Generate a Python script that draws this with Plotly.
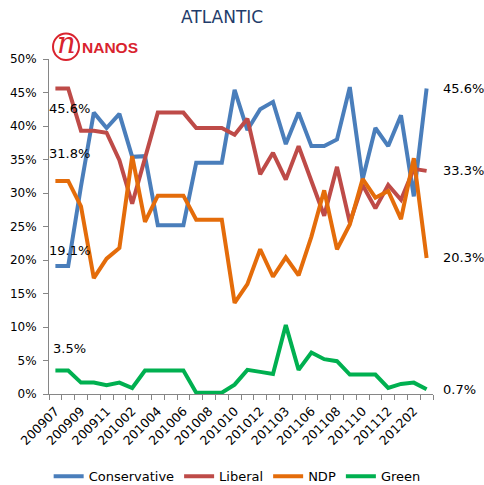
import plotly.graph_objects as go

categories = ["200907","200908","200909","200910","200911","201001","201002","201003",
              "201004","201005","201006","201007","201008","201009","201010","201011",
              "201012","201102","201103","201105","201106","201107","201108","201109",
              "201110","201111","201112","201201","201202","201203"]

conservative = [19.1, 19.1, 31.0, 42.0, 39.7, 41.8, 35.4, 35.5, 25.2, 25.2, 25.2, 34.5, 34.5, 34.5, 45.4,
                39.4, 42.5, 43.6, 37.3, 42.0, 37.0, 37.0, 38.0, 45.8, 32.0, 39.7, 37.0, 41.6, 29.5, 45.6]
liberal = [45.6, 45.6, 39.3, 39.3, 39.0, 34.9, 28.4, 35.3, 42.0, 42.0, 42.0, 39.7, 39.7, 39.7, 38.7,
           41.1, 32.8, 36.0, 32.0, 37.0, 31.8, 26.6, 33.9, 25.6, 31.2, 27.7, 31.2, 29.0, 33.6, 33.3]
ndp = [31.8, 31.8, 28.0, 17.3, 20.2, 21.8, 35.5, 25.7, 29.6, 29.6, 29.6, 26.0, 26.0, 26.0, 13.6,
       16.4, 21.6, 17.5, 20.4, 17.7, 23.5, 30.4, 21.6, 25.3, 32.1, 29.3, 30.3, 26.1, 35.2, 20.3]
green = [3.5, 3.5, 1.7, 1.7, 1.3, 1.7, 0.9, 3.5, 3.5, 3.5, 3.5, 0.2, 0.2, 0.2, 1.4,
         3.6, 3.3, 3.0, 10.3, 3.6, 6.2, 5.2, 4.9, 2.9, 2.9, 2.9, 0.9, 1.5, 1.7, 0.7]

series_names = ["Conservative", "Liberal", "NDP", "Green"]
series_values = [conservative, liberal, ndp, green]
colors = ["#4A7EBB", "#BE4B48", "#E46C0A", "#00B050"]

tick_labels = [c if i % 2 == 0 else "" for i, c in enumerate(categories)]
start_label_shift = [16, -20, 27, 22]

FONT = "DejaVu Sans"
W, H = 484, 485
ML, MR, MT, MB = 49, 51, 59, 91
pw, ph = W - ML - MR, H - MT - MB


def px(x):
    return (x - ML) / pw


def py(y):
    return 1 + (MT - y) / ph


fig = go.Figure()
for name, vals, col in zip(series_names, series_values, colors):
    fig.add_trace(go.Scatter(x=categories, y=vals, name=name, mode="lines",
                             line=dict(color=col, width=4)))

first_idx, last_idx = 0, len(categories) - 1
annotations = []
for vals, shift in zip(series_values, start_label_shift):
    annotations.append(dict(x=first_idx, y=vals[0], xref="x", yref="y",
                            text=f"{vals[0]:.1f}%", showarrow=False, xanchor="center",
                            yanchor="middle", xshift=14, yshift=shift,
                            font=dict(family=FONT, size=13, color="#000000")))
    annotations.append(dict(x=last_idx, y=vals[-1], xref="x", yref="y",
                            text=f"{vals[-1]:.1f}%", showarrow=False, xanchor="left",
                            yanchor="middle", xshift=14,
                            font=dict(family=FONT, size=13, color="#000000")))

# title
annotations.append(dict(x=px(222), y=py(17), xref="paper", yref="paper", text="ATLANTIC",
                        showarrow=False, xanchor="center", yanchor="middle",
                        font=dict(family=FONT, size=17, color="#1F3C6B")))

# logo (circle + letters)
fig.add_shape(type="circle", xref="paper", yref="paper",
              x0=px(53), x1=px(79), y0=py(60), y1=py(33.5),
              line=dict(color="#D9232E", width=2))
annotations.append(dict(x=px(66), y=py(43), xref="paper", yref="paper",
                        text="<i>n</i>", showarrow=False, xanchor="center", yanchor="middle",
                        font=dict(family="DejaVu Serif", size=29, color="#D9232E")))
annotations.append(dict(x=px(110), y=py(47), xref="paper", yref="paper",
                        text="<b>NANOS</b>", showarrow=False, xanchor="center", yanchor="middle",
                        font=dict(family="Liberation Sans", size=15.5, color="#D9232E")))

fig.update_layout(
    width=W, height=H,
    margin=dict(l=ML, r=MR, t=MT, b=MB, autoexpand=False),
    paper_bgcolor="white", plot_bgcolor="white",
    showlegend=True,
    legend=dict(orientation="h", x=0.49, xanchor="center", yref="container", y=0.018,
                yanchor="middle", font=dict(family=FONT, size=13, color="#000000"),
                tracegroupgap=0, itemwidth=30),
    xaxis=dict(type="category", tickmode="array", tickvals=categories, ticktext=tick_labels,
               tickson="boundaries", tickangle=-45, range=[-0.5, len(categories) - 0.5],
               showline=True, linecolor="#868686", linewidth=1, ticks="outside", ticklen=5,
               tickcolor="#868686", showgrid=False, zeroline=False, ticklabelstandoff=4,
               tickfont=dict(family=FONT, size=12.5, color="#000000")),
    yaxis=dict(range=[0, 50], dtick=5, ticksuffix="%", showline=True, linecolor="#868686",
               linewidth=1, ticks="outside", ticklen=5, tickcolor="#868686", showgrid=False,
               zeroline=False, ticklabelstandoff=4,
               tickfont=dict(family=FONT, size=12, color="#000000")),
    annotations=annotations,
)

fig.write_html("out.html", config={"displayModeBar": False},
               post_script="document.body.style.margin='0px';")
